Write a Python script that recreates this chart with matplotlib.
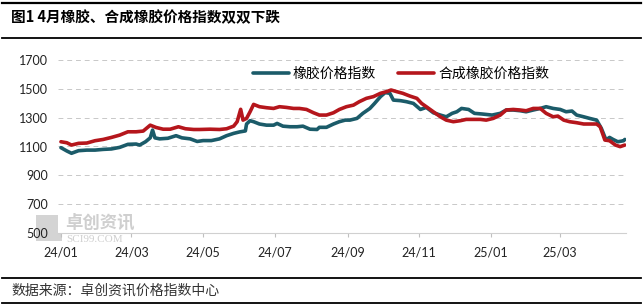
import matplotlib
matplotlib.use("Agg")
import matplotlib.pyplot as plt
import matplotlib.dates as mdates
from matplotlib.lines import Line2D
from matplotlib.patches import Rectangle
import pandas as pd

plt.rcParams['font.family'] = ['Noto Sans CJK SC', 'DejaVu Sans']

title = "图1 4月橡胶、合成橡胶价格指数双双下跌"
source = "数据来源：卓创资讯价格指数中心"
series_names = ["橡胶价格指数", "合成橡胶价格指数"]

rubber_dates = [
    "2024-01-01", "2024-01-06", "2024-01-10", "2024-01-16", "2024-01-23", "2024-01-30",
    "2024-02-06", "2024-02-13", "2024-02-20", "2024-02-27", "2024-03-05", "2024-03-08",
    "2024-03-13", "2024-03-17", "2024-03-19", "2024-03-21", "2024-03-25", "2024-04-01",
    "2024-04-08", "2024-04-13", "2024-04-20", "2024-04-26", "2024-05-01", "2024-05-08",
    "2024-05-15", "2024-05-21", "2024-05-27", "2024-06-01", "2024-06-06", "2024-06-07",
    "2024-06-10", "2024-06-13", "2024-06-18", "2024-06-24", "2024-06-30", "2024-07-03",
    "2024-07-08", "2024-07-14", "2024-07-20", "2024-07-25", "2024-07-31", "2024-08-06",
    "2024-08-08", "2024-08-14", "2024-08-20", "2024-08-25", "2024-08-30", "2024-09-03",
    "2024-09-09", "2024-09-14", "2024-09-20", "2024-09-24", "2024-09-29", "2024-10-03",
    "2024-10-07", "2024-10-10", "2024-10-16", "2024-10-21", "2024-10-27", "2024-11-02",
    "2024-11-07", "2024-11-13", "2024-11-19", "2024-11-24", "2024-11-29", "2024-12-03",
    "2024-12-07", "2024-12-13", "2024-12-18", "2024-12-25", "2025-01-02", "2025-01-09",
    "2025-01-14", "2025-01-20", "2025-01-26", "2025-01-31", "2025-02-06", "2025-02-12",
    "2025-02-17", "2025-02-23", "2025-03-01", "2025-03-06", "2025-03-11", "2025-03-15",
    "2025-03-21", "2025-03-26", "2025-04-01", "2025-04-05", "2025-04-09", "2025-04-12",
    "2025-04-15", "2025-04-19", "2025-04-24", "2025-04-25",
]
rubber_values = [
    1092, 1069, 1053, 1071, 1075, 1075,
    1080, 1083, 1094, 1115, 1117, 1110,
    1133, 1160, 1214, 1160, 1153, 1157,
    1175, 1160, 1153, 1135, 1141, 1141,
    1153, 1175, 1191, 1201, 1208, 1256,
    1279, 1272, 1256, 1248, 1248, 1260,
    1241, 1237, 1237, 1241, 1220, 1218,
    1233, 1233, 1256, 1272, 1283, 1283,
    1295, 1330, 1364, 1399, 1446, 1474,
    1469, 1422, 1418, 1411, 1399, 1357,
    1371, 1334, 1318, 1306, 1330, 1341,
    1364, 1357, 1330, 1325, 1318, 1330,
    1353, 1353, 1348, 1341, 1353, 1364,
    1376, 1364, 1357, 1341, 1346, 1318,
    1306, 1295, 1283, 1226, 1145, 1163,
    1149, 1133, 1140, 1149,
]

synth_dates = [
    "2024-01-01", "2024-01-06", "2024-01-10", "2024-01-16", "2024-01-23", "2024-01-30",
    "2024-02-06", "2024-02-13", "2024-02-20", "2024-02-27", "2024-03-05", "2024-03-11",
    "2024-03-17", "2024-03-22", "2024-03-28", "2024-04-03", "2024-04-10", "2024-04-16",
    "2024-04-23", "2024-04-28", "2024-05-07", "2024-05-15", "2024-05-21", "2024-05-27",
    "2024-05-30", "2024-06-02", "2024-06-04", "2024-06-07", "2024-06-10", "2024-06-13",
    "2024-06-18", "2024-06-24", "2024-06-30", "2024-07-05", "2024-07-11", "2024-07-17",
    "2024-07-22", "2024-07-28", "2024-08-03", "2024-08-08", "2024-08-14", "2024-08-20",
    "2024-08-25", "2024-08-31", "2024-09-06", "2024-09-11", "2024-09-17", "2024-09-23",
    "2024-09-29", "2024-10-04", "2024-10-08", "2024-10-13", "2024-10-18", "2024-10-24",
    "2024-10-30", "2024-11-03", "2024-11-07", "2024-11-13", "2024-11-19", "2024-11-24",
    "2024-11-30", "2024-12-06", "2024-12-11", "2024-12-17", "2024-12-23", "2024-12-28",
    "2025-01-03", "2025-01-09", "2025-01-14", "2025-01-20", "2025-01-26", "2025-01-31",
    "2025-02-06", "2025-02-12", "2025-02-17", "2025-02-23", "2025-02-27", "2025-03-04",
    "2025-03-09", "2025-03-15", "2025-03-21", "2025-03-26", "2025-04-01", "2025-04-04",
    "2025-04-08", "2025-04-12", "2025-04-17", "2025-04-21", "2025-04-25",
]
synth_values = [
    1133, 1126, 1110, 1122, 1124, 1140,
    1149, 1163, 1179, 1202, 1202, 1207,
    1248, 1232, 1220, 1220, 1237, 1223,
    1218, 1218, 1220, 1218, 1223, 1241,
    1272, 1358, 1283, 1295, 1341, 1392,
    1376, 1369, 1364, 1376, 1371, 1364,
    1364, 1357, 1334, 1318, 1318, 1334,
    1357, 1376, 1387, 1411, 1434, 1446,
    1469, 1480, 1492, 1480, 1469, 1450,
    1434, 1399, 1376, 1341, 1306, 1283,
    1272, 1279, 1288, 1288, 1288, 1283,
    1295, 1318, 1353, 1357, 1353, 1348,
    1364, 1364, 1330, 1306, 1311, 1283,
    1272, 1265, 1256, 1256, 1256, 1237,
    1145, 1140, 1110, 1099, 1110,
]

y_ticks = [500, 700, 900, 1100, 1300, 1500, 1700]
x_tick_dates = ["2024-01-01", "2024-03-01", "2024-05-01", "2024-07-01",
                "2024-09-01", "2024-11-01", "2025-01-01", "2025-03-01"]

teal = "#1b5b69"
red = "#b5161c"

W, H = 643, 308
fig = plt.figure(figsize=(W / 100, H / 100), dpi=100)

def fx(px):
    return px / W

def fy(py):
    return 1 - py / H

ax = fig.add_axes([fx(58), fy(233), fx(626) - fx(58), fy(60) - fy(233)])

ax.plot(pd.to_datetime(rubber_dates), rubber_values, color=teal, lw=2.6,
        label=series_names[0], solid_joinstyle="round", solid_capstyle="round")
ax.plot(pd.to_datetime(synth_dates), synth_values, color=red, lw=2.6,
        label=series_names[1], solid_joinstyle="round", solid_capstyle="round")

ax.set_ylim(500, 1700)
ax.set_yticks(y_ticks)
ax.set_xlim(pd.Timestamp("2023-12-29 12:00"), pd.Timestamp("2025-04-26"))
ax.set_xticks(pd.to_datetime(x_tick_dates))
ax.xaxis.set_major_formatter(mdates.DateFormatter("%y/%m"))

for s in ["top", "right", "left"]:
    ax.spines[s].set_visible(False)
ax.spines["bottom"].set_color("#d0d0d0")
ax.spines["bottom"].set_linewidth(0.8)

ax.yaxis.grid(True, color="#c8c8c8", linestyle=(0, (5, 4)), linewidth=0.7)
ax.set_axisbelow(True)

ax.tick_params(axis="y", length=0, pad=7, labelsize=9, labelcolor="#222222")
ax.tick_params(axis="x", length=3, width=0.8, color="#c0c0c0", pad=7,
               labelsize=9, labelcolor="#222222")
for lab in ax.get_xticklabels() + ax.get_yticklabels():
    lab.set_fontfamily("Lato")

leg = ax.legend(loc="upper center", bbox_to_anchor=(0.604, 1.03), ncol=2,
                frameon=False, fontsize=10, handlelength=2.6, handletextpad=0.3,
                columnspacing=1.6)

# watermark
fig.add_artist(Rectangle((fx(36), fy(241)), fx(62) - fx(36), fy(215) - fy(241),
                         transform=fig.transFigure, facecolor="#d4d4d4",
                         edgecolor="none", zorder=0))
fig.text(fx(65), fy(223), "卓创资讯", fontsize=12.5, color="#cfcfcf",
         ha="left", va="center", fontweight="bold", zorder=0)
fig.text(fx(66), fy(239), "SCI99.COM", fontsize=8, color="#cfcfcf",
         ha="left", va="center", family="Liberation Serif", zorder=0)

# header / footer rules and texts
for py, lw in [(3, 1.6), (37.5, 1.3), (278, 1.3), (303, 1.3)]:
    fig.add_artist(Line2D([fx(2), fx(641)], [fy(py), fy(py)], color="black",
                          lw=lw, transform=fig.transFigure))

fig.text(fx(11), fy(17), "图1 4月橡胶、合成橡胶价格指数双双下跌", fontsize=10.5,
         fontweight="bold", ha="left", va="center", color="black")
fig.text(fx(11), fy(291), source, fontsize=10, ha="left", va="center",
         color="#333333")

fig.savefig("out.png", dpi=100)
